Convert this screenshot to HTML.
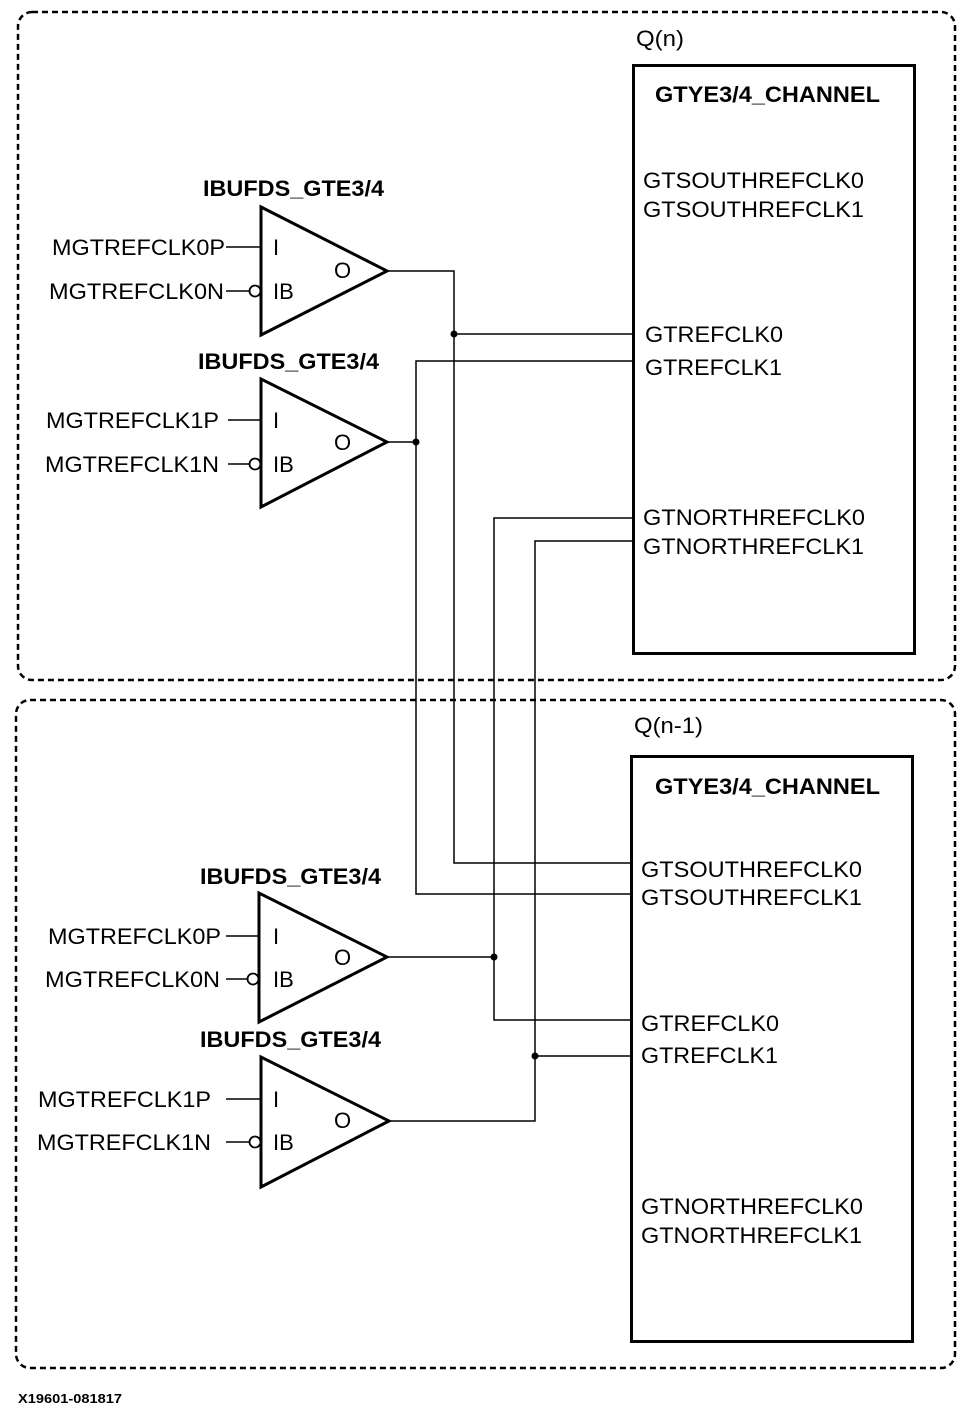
<!DOCTYPE html>
<html><head><style>body{margin:0;background:#fff}</style></head><body>
<svg width="969" height="1404" xmlns="http://www.w3.org/2000/svg" font-family="Liberation Sans, Arial, sans-serif">
<g fill="none" stroke="#000">
<rect x="18" y="12" width="937" height="668" rx="14" stroke-width="2.5" stroke-dasharray="6,4"/>
<rect x="16" y="700" width="939" height="668" rx="14" stroke-width="2.5" stroke-dasharray="6,4"/>
<rect x="633.5" y="65.5" width="281" height="588" stroke-width="3"/>
<rect x="631.5" y="756.5" width="281" height="585" stroke-width="3"/>
<g stroke-width="3" stroke-linejoin="miter">
<polygon points="261,207 261,335 387,271"/>
<polygon points="261,379 261,507 387,442"/>
<polygon points="259,893 259,1022 387,957"/>
<polygon points="261,1057 261,1187 389,1121"/>
</g>
<g stroke-width="1.5">
<line x1="226" y1="247" x2="261" y2="247"/><line x1="226" y1="291" x2="250" y2="291"/>
<line x1="228" y1="420" x2="261" y2="420"/><line x1="228" y1="464" x2="250" y2="464"/>
<line x1="226" y1="936" x2="259" y2="936"/><line x1="226" y1="979" x2="248" y2="979"/>
<line x1="226" y1="1099" x2="261" y2="1099"/><line x1="226" y1="1142" x2="250" y2="1142"/>
<polyline points="387,271 454,271 454,863 631,863"/>
<line x1="454" y1="334" x2="633" y2="334"/>
<polyline points="387,442 416,442"/>
<polyline points="633,361 416,361 416,894 631,894"/>
<polyline points="387,957 494,957"/>
<polyline points="633,518 494,518 494,1020 631,1020"/>
<polyline points="389,1121 535,1121 535,541 633,541"/>
<line x1="535" y1="1056" x2="631" y2="1056"/>
</g>
<g stroke-width="1.8">
<circle cx="255" cy="291" r="5.5"/><circle cx="255" cy="464" r="5.5"/>
<circle cx="253" cy="979" r="5.5"/><circle cx="255" cy="1142" r="5.5"/>
</g>
</g>
<g fill="#000">
<circle cx="454" cy="334" r="3.5"/><circle cx="416" cy="442" r="3.5"/>
<circle cx="494" cy="957" r="3.5"/><circle cx="535" cy="1056" r="3.5"/>
</g>
<g font-size="22" fill="#000" lengthAdjust="spacingAndGlyphs">
<text x="636" y="46" textLength="48" lengthAdjust="spacingAndGlyphs">Q(n)</text>
<text x="634" y="733" textLength="69" lengthAdjust="spacingAndGlyphs">Q(n-1)</text>
<g font-weight="bold">
<text x="655" y="102" textLength="225" lengthAdjust="spacingAndGlyphs">GTYE3/4_CHANNEL</text>
<text x="655" y="794" textLength="225" lengthAdjust="spacingAndGlyphs">GTYE3/4_CHANNEL</text>
<text x="203" y="196" textLength="181" lengthAdjust="spacingAndGlyphs">IBUFDS_GTE3/4</text>
<text x="198" y="369" textLength="181" lengthAdjust="spacingAndGlyphs">IBUFDS_GTE3/4</text>
<text x="200" y="884" textLength="181" lengthAdjust="spacingAndGlyphs">IBUFDS_GTE3/4</text>
<text x="200" y="1047" textLength="181" lengthAdjust="spacingAndGlyphs">IBUFDS_GTE3/4</text>
</g>
<text x="643" y="188" textLength="221" lengthAdjust="spacingAndGlyphs">GTSOUTHREFCLK0</text><text x="643" y="217" textLength="221" lengthAdjust="spacingAndGlyphs">GTSOUTHREFCLK1</text>
<text x="645" y="342" textLength="138" lengthAdjust="spacingAndGlyphs">GTREFCLK0</text><text x="645" y="375" textLength="137" lengthAdjust="spacingAndGlyphs">GTREFCLK1</text>
<text x="643" y="525" textLength="222" lengthAdjust="spacingAndGlyphs">GTNORTHREFCLK0</text><text x="643" y="554" textLength="221" lengthAdjust="spacingAndGlyphs">GTNORTHREFCLK1</text>
<text x="641" y="877" textLength="221" lengthAdjust="spacingAndGlyphs">GTSOUTHREFCLK0</text><text x="641" y="905" textLength="221" lengthAdjust="spacingAndGlyphs">GTSOUTHREFCLK1</text>
<text x="641" y="1031" textLength="138" lengthAdjust="spacingAndGlyphs">GTREFCLK0</text><text x="641" y="1063" textLength="137" lengthAdjust="spacingAndGlyphs">GTREFCLK1</text>
<text x="641" y="1214" textLength="222" lengthAdjust="spacingAndGlyphs">GTNORTHREFCLK0</text><text x="641" y="1243" textLength="221" lengthAdjust="spacingAndGlyphs">GTNORTHREFCLK1</text>
<g text-anchor="end">
<text x="225" y="255" textLength="173" lengthAdjust="spacingAndGlyphs">MGTREFCLK0P</text><text x="224" y="299" textLength="175" lengthAdjust="spacingAndGlyphs">MGTREFCLK0N</text>
<text x="219" y="428" textLength="173" lengthAdjust="spacingAndGlyphs">MGTREFCLK1P</text><text x="219" y="472" textLength="174" lengthAdjust="spacingAndGlyphs">MGTREFCLK1N</text>
<text x="221" y="944" textLength="173" lengthAdjust="spacingAndGlyphs">MGTREFCLK0P</text><text x="220" y="987" textLength="175" lengthAdjust="spacingAndGlyphs">MGTREFCLK0N</text>
<text x="211" y="1107" textLength="173" lengthAdjust="spacingAndGlyphs">MGTREFCLK1P</text><text x="211" y="1150" textLength="174" lengthAdjust="spacingAndGlyphs">MGTREFCLK1N</text>
</g>
<text x="273" y="255">I</text><text x="273" y="299">IB</text><text x="334" y="278">O</text>
<text x="273" y="428">I</text><text x="273" y="472">IB</text><text x="334" y="450">O</text>
<text x="273" y="944">I</text><text x="273" y="987">IB</text><text x="334" y="965">O</text>
<text x="273" y="1107">I</text><text x="273" y="1150">IB</text><text x="334" y="1128">O</text>
<text x="18" y="1403" font-size="13" font-weight="bold" textLength="104" lengthAdjust="spacingAndGlyphs">X19601-081817</text>
</g>
</svg>
</body></html>
